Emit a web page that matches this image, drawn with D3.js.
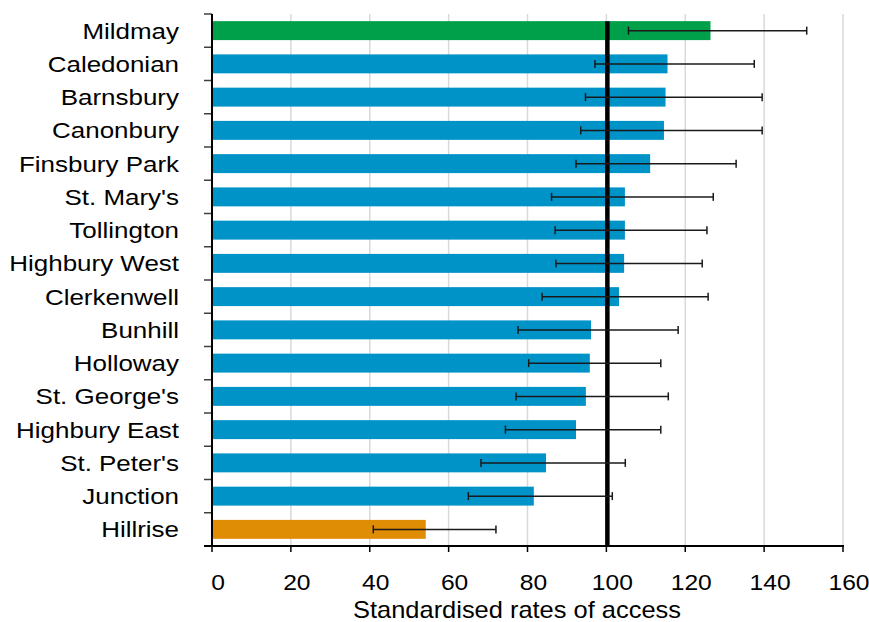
<!DOCTYPE html>
<html>
<head>
<meta charset="utf-8">
<script src="https://cdn.jsdelivr.net/npm/d3@7"></script>
<style>
  html, body { margin: 0; padding: 0; background: #fff; }
  svg { display: block; font-family: "Liberation Sans", Arial, sans-serif; }
</style>
</head>
<body>
<svg id="chart" width="869" height="622"></svg>
<script>
const categories = ["Mildmay","Caledonian","Barnsbury","Canonbury","Finsbury Park","St. Mary's","Tollington","Highbury West","Clerkenwell","Bunhill","Holloway","St. George's","Highbury East","St. Peter's","Junction","Hillrise"];
const values = [126.4,115.5,115.0,114.6,111.1,104.7,104.7,104.5,103.2,96.1,95.8,94.8,92.3,84.7,81.6,54.2];
const lowerCI = [105.6,97.1,94.7,93.5,92.3,86.1,87.0,87.2,83.7,77.6,80.3,77.1,74.4,68.2,65.0,40.9];
const upperCI = [150.8,137.5,139.5,139.5,132.9,127.1,125.5,124.3,125.8,118.2,113.8,115.7,113.8,104.8,101.5,72.0];
const groups = ["high","avg","avg","avg","avg","avg","avg","avg","avg","avg","avg","avg","avg","avg","avg","low"];
const xTickValues = [0,20,40,60,80,100,120,140,160];
const referenceValue = 100;
const axisTitle = "Standardised rates of access";

(function () {
const colors = { high: "#00A04A", avg: "#0093C8", low: "#E08D06" };

const svg = d3.select("#chart");
const mLeft = 212, mRight = 843, mTop = 14, mBottom = 546;

const x = d3.scaleLinear().domain([0, 160]).range([mLeft, mRight]);
const y = d3.scaleBand().domain(categories).range([mTop, mBottom]).paddingInner(0.43).paddingOuter(0.215);

const data = categories.map((c, i) => ({ cat: c, v: values[i], lo: lowerCI[i], hi: upperCI[i], g: groups[i] }));

// gridlines
svg.append("g").selectAll("line").data(xTickValues.filter(d => d > 0)).join("line")
  .attr("x1", d => x(d)).attr("x2", d => x(d))
  .attr("y1", mTop).attr("y2", mBottom)
  .attr("stroke", "#d9d9d9").attr("stroke-width", 1.5);

// bars
svg.append("g").selectAll("rect").data(data).join("rect")
  .attr("x", x(0)).attr("y", d => y(d.cat))
  .attr("width", d => x(d.v) - x(0)).attr("height", y.bandwidth())
  .attr("fill", d => colors[d.g]);

// reference line
svg.append("line")
  .attr("x1", x(referenceValue) + 1).attr("x2", x(referenceValue) + 1)
  .attr("y1", y(categories[0])).attr("y2", mBottom)
  .attr("stroke", "#000").attr("stroke-width", 4.5);

// error bars
const eb = svg.append("g").selectAll("g").data(data).join("g")
  .attr("stroke", "#1a1a1a").attr("stroke-width", 1.5);
eb.append("line")
  .attr("x1", d => x(d.lo)).attr("x2", d => x(d.hi))
  .attr("y1", d => y(d.cat) + y.bandwidth() / 2).attr("y2", d => y(d.cat) + y.bandwidth() / 2);
eb.append("line")
  .attr("x1", d => x(d.lo)).attr("x2", d => x(d.lo))
  .attr("y1", d => y(d.cat) + y.bandwidth() / 2 - 4).attr("y2", d => y(d.cat) + y.bandwidth() / 2 + 4);
eb.append("line")
  .attr("x1", d => x(d.hi)).attr("x2", d => x(d.hi))
  .attr("y1", d => y(d.cat) + y.bandwidth() / 2 - 4).attr("y2", d => y(d.cat) + y.bandwidth() / 2 + 4);

// y-axis ticks (band boundaries)
const gap = (y.step() - y.bandwidth()) / 2;
const boundaries = categories.map(c => y(c) - gap).concat([y(categories[categories.length - 1]) + y.bandwidth() + gap]);
svg.append("g").selectAll("line").data(boundaries).join("line")
  .attr("x1", mLeft - 8).attr("x2", mLeft)
  .attr("y1", d => d).attr("y2", d => d)
  .attr("stroke", "#404040").attr("stroke-width", 1.5);

// x-axis ticks
svg.append("g").selectAll("line").data(xTickValues).join("line")
  .attr("x1", d => x(d)).attr("x2", d => x(d))
  .attr("y1", mBottom).attr("y2", mBottom + 6)
  .attr("stroke", "#000").attr("stroke-width", 1.5);

// axis lines
svg.append("line").attr("x1", mLeft).attr("x2", mLeft).attr("y1", mTop).attr("y2", mBottom + 1)
  .attr("stroke", "#000").attr("stroke-width", 2);
svg.append("line").attr("x1", mLeft - 8).attr("x2", mRight + 1).attr("y1", mBottom).attr("y2", mBottom)
  .attr("stroke", "#000").attr("stroke-width", 2);

// category labels
svg.append("g").selectAll("text").data(categories).join("text")
  .attr("transform", d => `translate(179,${y(d) + y.bandwidth() / 2 + 8}) scale(1.18,1)`)
  .attr("text-anchor", "end")
  .attr("font-size", 22)
  .attr("fill", "#000")
  .text(d => d);

// x tick labels
svg.append("g").selectAll("text").data(xTickValues).join("text")
  .attr("transform", d => `translate(${x(d) + 6},590) scale(1.12,1)`)
  .attr("text-anchor", "middle")
  .attr("font-size", 22)
  .attr("fill", "#000")
  .text(d => d);

// axis title
svg.append("text")
  .attr("transform", `translate(517,618) scale(1.06,1)`)
  .attr("text-anchor", "middle")
  .attr("font-size", 24)
  .attr("fill", "#000")
  .text(axisTitle);
})();
</script>
</body>
</html>
